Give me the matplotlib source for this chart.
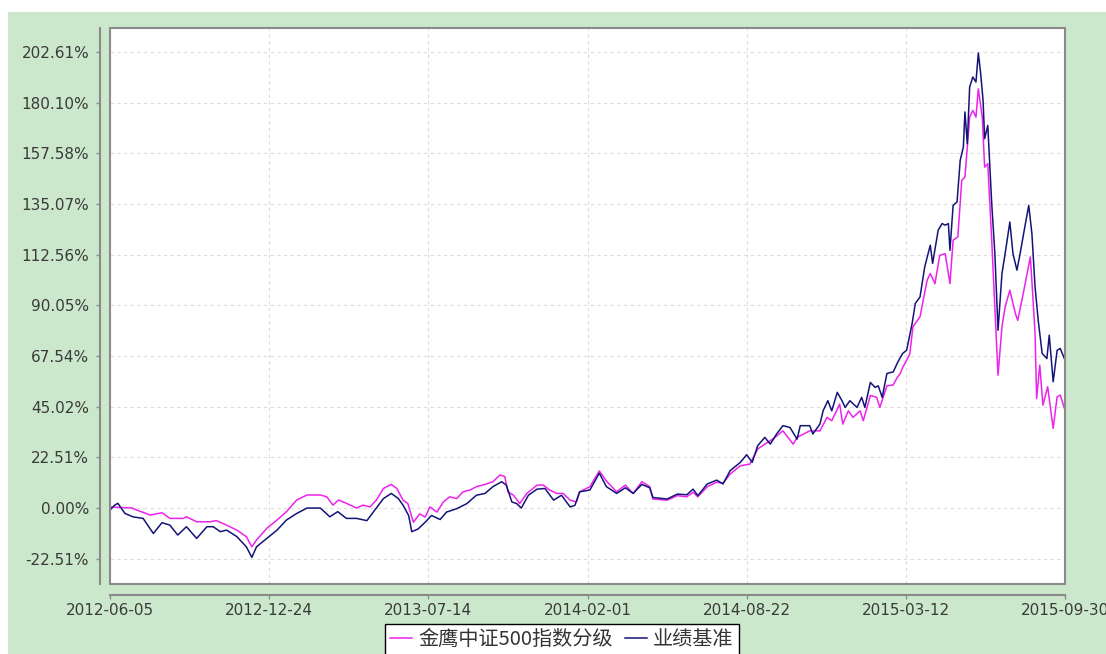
import numpy as np
import pandas as pd
import matplotlib
matplotlib.use("Agg")
from matplotlib import pyplot as plt
from matplotlib.patches import Rectangle

# days since 2012-06-05 and cumulative return (%)
fund_days = [0, 28, 34, 51, 66, 76, 93, 97, 110, 127, 135, 148, 161, 173, 180, 186, 199, 212, 224, 237,
             250, 267, 275, 283, 290, 300, 313, 321, 330, 338, 347, 357, 364, 372, 378, 385, 393, 400, 406, 415,
             423, 431, 440, 448, 457, 465, 476, 486, 495, 501, 505, 512, 520, 529, 542, 550, 558, 567, 575, 584,
             592, 596, 609, 621, 630, 643, 654, 664, 675, 685, 689, 707, 720, 732, 740, 746, 758, 770, 778, 787,
             800, 812, 822, 831, 841, 854, 867, 872, 888, 901, 910, 916, 926, 930, 937, 943, 952, 956, 965, 973,
             977, 986, 994, 999, 1003, 1006, 1011, 1015, 1019, 1028, 1037, 1041, 1047, 1053, 1060, 1066, 1070, 1076, 1081, 1085,
             1088, 1091, 1095, 1099, 1102, 1107, 1110, 1114, 1119, 1123, 1127, 1132, 1136, 1142, 1149, 1152, 1159, 1168, 1171, 1174,
             1176, 1180, 1184, 1190, 1197, 1202, 1206, 1212]
fund_vals = [0.5, 0.0, -0.9, -3.1, -2.1, -4.6, -4.6, -3.9, -6.1, -6.1, -5.6, -7.6, -9.8, -12.7, -17.2, -14.2, -9.0, -5.3, -1.6, 3.6,
             5.8, 5.8, 5.0, 1.3, 3.6, 2.1, 0.0, 1.3, 0.5, 3.5, 8.7, 10.5, 8.7, 3.5, 2.0, -6.3, -2.6, -4.0, 0.5, -1.8,
             2.7, 5.0, 4.2, 7.2, 8.0, 9.5, 10.5, 11.7, 14.7, 14.0, 7.2, 5.7, 2.0, 6.5, 10.2, 10.2, 8.0, 6.5, 6.5, 3.5,
             2.7, 7.2, 9.5, 16.5, 12.0, 7.2, 10.2, 6.5, 11.7, 9.5, 4.0, 3.5, 5.5, 5.0, 7.0, 5.0, 9.5, 11.5, 11.0, 15.1,
             18.8, 19.5, 26.2, 28.4, 30.6, 34.3, 28.4, 31.4, 34.3, 34.3, 40.3, 38.8, 46.2, 37.3, 43.2, 40.3, 43.2, 38.8, 50.0, 49.2,
             44.7, 54.3, 54.7, 58.0, 59.8, 62.5, 65.7, 68.4, 80.5, 85.0, 101.2, 104.2, 99.7, 112.3, 113.0, 99.7, 119.0, 120.5, 145.6, 147.1,
             160.4, 173.7, 176.7, 173.7, 186.3, 173.7, 151.5, 153.0, 119.0, 89.4, 59.0, 80.5, 89.4, 96.8, 86.5, 83.4, 95.3, 111.6, 95.3, 77.5,
             48.7, 63.5, 45.7, 53.9, 35.4, 49.4, 50.2, 43.5]

bench_days = [0, 6, 10, 19, 29, 42, 55, 66, 76, 86, 97, 110, 123, 131, 140, 148, 161, 173, 180, 186,
              199, 212, 224, 237, 250, 267, 279, 289, 300, 313, 326, 338, 347, 357, 366, 372, 379, 383, 391, 400,
              408, 419, 427, 440, 453, 465, 476, 486, 497, 503, 510, 516, 522, 531, 542, 552, 563, 573, 584, 590,
              596, 609, 621, 630, 643, 654, 664, 675, 685, 689, 707, 720, 732, 740, 746, 758, 770, 778, 787, 800,
              808, 815, 822, 831, 838, 846, 854, 863, 872, 876, 888, 892, 901, 905, 911, 916, 923, 929, 933, 939,
              948, 954, 958, 965, 971, 975, 980, 986, 994, 1000, 1006, 1011, 1018, 1022, 1028, 1034, 1041, 1044, 1051, 1056,
              1060, 1064, 1066, 1070, 1075, 1079, 1083, 1085, 1088, 1091, 1095, 1099, 1102, 1105, 1108, 1110, 1114, 1119, 1123, 1127,
              1132, 1136, 1142, 1146, 1151, 1155, 1161, 1166, 1170, 1174, 1178, 1183, 1189, 1192, 1197, 1202, 1206, 1212]
bench_vals = [-0.9, 1.3, 2.1, -2.4, -3.9, -4.6, -11.3, -6.5, -7.6, -12.0, -8.3, -13.5, -8.3, -8.3, -10.5, -9.8, -12.7, -17.2, -21.9, -17.2,
              -13.5, -9.8, -5.3, -2.4, 0.0, 0.0, -3.9, -1.6, -4.6, -4.6, -5.6, 0.0, 4.2, 6.5, 4.2, 1.2, -3.3, -10.5, -9.3, -6.3,
              -3.3, -5.1, -1.8, -0.3, 2.0, 5.7, 6.5, 9.5, 11.7, 10.2, 2.7, 2.0, 0.0, 5.7, 8.4, 8.7, 3.5, 5.7, 0.5, 1.2,
              7.2, 8.0, 15.5, 9.5, 6.5, 9.0, 6.5, 10.5, 9.0, 4.7, 4.0, 6.2, 5.9, 8.4, 5.5, 10.7, 12.4, 10.7, 16.6, 20.3,
              23.7, 20.3, 27.7, 31.4, 28.4, 32.9, 36.6, 35.8, 30.6, 36.6, 36.6, 32.9, 37.3, 43.2, 47.7, 43.2, 51.4, 47.7, 44.7, 47.7,
              44.7, 49.2, 44.7, 55.8, 53.6, 54.3, 49.2, 59.8, 60.5, 65.0, 68.7, 70.1, 82.0, 90.9, 93.8, 107.2, 116.8, 108.7, 123.4, 126.4,
              125.7, 126.4, 114.5, 134.5, 136.0, 154.5, 160.4, 176.0, 161.9, 187.1, 191.5, 189.3, 202.2, 193.0, 181.2, 164.1, 170.0, 135.3, 113.0, 79.0,
              104.2, 113.0, 127.1, 113.0, 105.7, 113.0, 124.9, 134.5, 121.9, 98.3, 83.4, 68.7, 66.4, 76.8, 56.1, 70.1, 70.9, 65.7]

start_date = "2012-06-05"
x_ticks = ["2012-06-05", "2012-12-24", "2013-07-14", "2014-02-01", "2014-08-22", "2015-03-12", "2015-09-30"]
y_ticks = [-22.51, 0.00, 22.51, 45.02, 67.54, 90.05, 112.56, 135.07, 157.58, 180.10, 202.61]
series_names = ["金鹰中证500指数分级", "业绩基准"]

W, H = 1106, 654
fig = plt.figure(figsize=(W / 100, H / 100), dpi=100, facecolor="#cce8cc")
# white strips on the top and left edges
fig.patches.append(Rectangle((0, 1 - 12 / H), 1, 12 / H, transform=fig.transFigure,
                             facecolor="white", edgecolor="none", zorder=-10))
fig.patches.append(Rectangle((0, 0), 8 / W, 1, transform=fig.transFigure,
                             facecolor="white", edgecolor="none", zorder=-10))

ax = fig.add_axes([110 / W, 1 - 584 / H, (1065 - 110) / W, (584 - 28) / H])
ax.set_facecolor("white")

t0 = pd.Timestamp(start_date)
fund_x = t0 + pd.to_timedelta(fund_days, unit="D")
bench_x = t0 + pd.to_timedelta(bench_days, unit="D")

ax.plot(fund_x, fund_vals, color="#ee22ee", lw=1.1, label=series_names[0], zorder=3)
ax.plot(bench_x, bench_vals, color="#141478", lw=1.1, label=series_names[1], zorder=4)

ax.set_xlim(pd.Timestamp(x_ticks[0]), pd.Timestamp(x_ticks[-1]))
ax.set_ylim(-33.75, 213.3)
ax.set_xticks([pd.Timestamp(d) for d in x_ticks])
ax.set_xticklabels(x_ticks)
ax.set_yticks(y_ticks)
ax.set_yticklabels([f"{v:.2f}%" for v in y_ticks])

ax.grid(True, color="#dcdcdc", ls=(0, (3, 3)), lw=0.8)
ax.set_axisbelow(True)

for s in ["top", "right"]:
    ax.spines[s].set_visible(False)
ax.spines["left"].set_position(("outward", 7))
ax.spines["bottom"].set_position(("outward", 8))
for s in ["left", "bottom"]:
    ax.spines[s].set_color("#8a8a8a")
    ax.spines[s].set_linewidth(1.5)

# frame around the plotting area
ax.add_patch(Rectangle((0, 0), 1, 1, transform=ax.transAxes, fill=False,
                       edgecolor="#8a8a8a", lw=1.5, clip_on=False, zorder=5))

ax.tick_params(axis="both", colors="#8a8a8a", labelcolor="#3a3a3a", labelsize=11,
               length=3, width=1)
ax.tick_params(axis="y", pad=5)
ax.tick_params(axis="x", pad=3)

leg = fig.legend(loc="upper center", bbox_to_anchor=(562 / W, 1 - 624 / H), ncol=2,
                 frameon=True, fancybox=False, edgecolor="black", framealpha=1,
                 prop={"family": ["Noto Sans CJK SC", "DejaVu Sans"], "size": 14.5},
                 handlelength=1.1, handletextpad=0.3, columnspacing=0.6, borderpad=0.25,
                 borderaxespad=0)
leg.get_frame().set_linewidth(1.0)
for t in leg.get_texts():
    t.set_color("#333333")

fig.savefig("out.png", dpi=100, facecolor=fig.get_facecolor())
